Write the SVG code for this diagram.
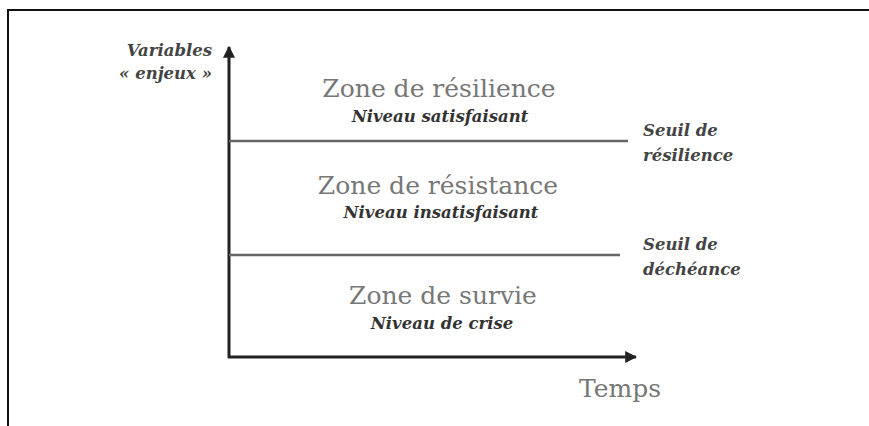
<svg xmlns="http://www.w3.org/2000/svg" width="869" height="426" viewBox="0 0 869 426">
<style>
text{font-family:'DejaVu Serif','Liberation Serif',serif}
.zone{font-size:25px;fill:#777;text-anchor:middle}
.lvl{font-size:16.5px;font-style:italic;font-weight:bold;fill:#333;text-anchor:middle}
.lab{font-size:16.5px;font-style:italic;font-weight:bold;fill:#444}
.ax{stroke:#222;stroke-width:3;fill:none}
.th{stroke:#666;stroke-width:2.5;fill:none}
</style>
<defs>
<marker id="ah" viewBox="0 0 10 10" refX="9" refY="5" markerWidth="4" markerHeight="4" orient="auto" markerUnits="strokeWidth">
<path d="M0,0 L10,5 L0,10 Z" fill="#222"/>
</marker>
</defs>
<rect width="869" height="426" fill="#fff"/>
<path d="M8,426 V10 H869" fill="none" stroke="#111" stroke-width="2"/>
<g id="connectors">
<line class="ax" x1="229" y1="358" x2="229" y2="47" marker-end="url(#ah)"/>
<line class="ax" x1="228" y1="357" x2="636" y2="357" marker-end="url(#ah)"/>
<line class="th" x1="229" y1="141" x2="628" y2="141"/>
<line class="th" x1="229" y1="255" x2="620" y2="255"/>
</g>
<g id="yaxis-label">
<text class="lab" x="212" y="56" text-anchor="end" font-size="15.5">Variables</text>
<text class="lab" x="212" y="79" text-anchor="end" font-size="15.5">« enjeux »</text>
</g>
<g id="zone-resilience">
<text class="zone" x="439" y="97">Zone de résilience</text>
<text class="lvl" x="440" y="122">Niveau satisfaisant</text>
</g>
<g id="zone-resistance">
<text class="zone" x="438" y="194">Zone de résistance</text>
<text class="lvl" x="441" y="218">Niveau insatisfaisant</text>
</g>
<g id="zone-survie">
<text class="zone" x="443" y="304">Zone de survie</text>
<text class="lvl" x="442" y="329">Niveau de crise</text>
</g>
<g id="seuil-resilience">
<text class="lab" x="643" y="136">Seuil de</text>
<text class="lab" x="643" y="161">résilience</text>
</g>
<g id="seuil-decheance">
<text class="lab" x="643" y="250">Seuil de</text>
<text class="lab" x="643" y="275">déchéance</text>
</g>
<g id="temps">
<text class="zone" x="620" y="397" font-size="26">Temps</text>
</g>
</svg>
